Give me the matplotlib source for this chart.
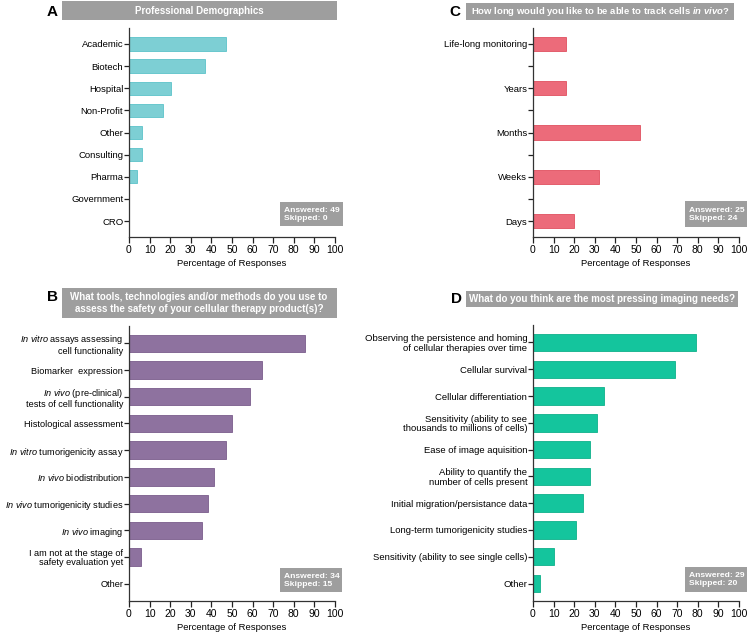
import matplotlib
matplotlib.use('Agg')
import matplotlib.pyplot as plt
from matplotlib.patches import Rectangle

plt.rcParams['font.family'] = ['Liberation Sans', 'DejaVu Sans']
plt.rcParams['mathtext.fontset'] = 'custom'
plt.rcParams['mathtext.rm'] = 'Liberation Sans'
plt.rcParams['mathtext.it'] = 'Liberation Sans:italic'
plt.rcParams['mathtext.bf'] = 'Liberation Sans:bold'
plt.rcParams['mathtext.bfit'] = 'Liberation Sans:bold:italic'

# Данные панелей (проценты ответов)
demo_labels = ['Academic', 'Biotech', 'Hospital', 'Non-Profit', 'Other',
               'Consulting', 'Pharma', 'Government', 'CRO']
demo_values = [46.9, 36.7, 20.4, 16.3, 6.1, 6.1, 4.1, 0, 0]

track_labels = ['Life-long monitoring', 'Years', 'Months', 'Weeks', 'Days']
track_values = [16, 16, 52, 32, 20]

safety_labels = [r'$\mathit{In\ vitro}$ assays assessing' + '\ncell functionality',
                 'Biomarker  expression',
                 r'$\mathit{In\ vivo}$ (pre-clinical)' + '\ntests of cell functionality',
                 'Histological assessment',
                 r'$\mathit{In\ vitro}$ tumorigenicity assay',
                 r'$\mathit{In\ vivo}$ biodistribution',
                 r'$\mathit{In\ vivo}$ tumorigenicity studies',
                 r'$\mathit{In\ vivo}$ imaging',
                 'I am not at the stage of\nsafety evaluation yet',
                 'Other']
safety_values = [85.3, 64.7, 58.8, 50.0, 47.1, 41.2, 38.2, 35.3, 5.9, 0]

needs_labels = ['Observing the persistence and homing\nof cellular therapies over time',
                'Cellular survival',
                'Cellular differentiation',
                'Sensitivity (ability to see\nthousands to millions of cells)',
                'Ease of image aquisition',
                'Ability to quantify the\nnumber of cells present',
                'Initial migration/persistance data',
                'Long-term tumorigenicity studies',
                'Sensitivity (ability to see single cells)',
                'Other']
needs_values = [79.3, 69.0, 34.5, 31.0, 27.6, 27.6, 24.1, 20.7, 10.3, 3.4]

W, H = 750, 635
fig = plt.figure(figsize=(W / 100, H / 100), dpi=100)
BOX = '#9e9e9e'


def px_axes(left, top, right, bottom):
    return fig.add_axes([left / W, 1 - bottom / H, (right - left) / W, (bottom - top) / H])


def header(letter, lx, ly, x0, y0, x1, y1, text, tx, ty, size=7):
    fig.add_artist(Rectangle((x0 / W, 1 - y1 / H), (x1 - x0) / W, (y1 - y0) / H,
                             transform=fig.transFigure, facecolor=BOX, edgecolor='none'))
    fig.text(lx / W, 1 - ly / H, letter, fontsize=11, fontweight='bold',
             ha='center', va='center')
    fig.text(tx / W, 1 - ty / H, text, fontsize=size, fontweight='bold', color='white',
             ha='center', va='center', linespacing=1.25)


def answered(x0, y0, x1, y1, n_ans, n_skip):
    fig.add_artist(Rectangle((x0 / W, 1 - y1 / H), (x1 - x0) / W, (y1 - y0) / H,
                             transform=fig.transFigure, facecolor=BOX, edgecolor='none'))
    fig.text((x0 + 4) / W, 1 - (y0 + y1) / 2 / H, f'Answered: {n_ans}\nSkipped: {n_skip}',
             fontsize=6.1, fontweight='bold', color='white', ha='left', va='center',
             linespacing=1.2)


def bar_panel(ax, labels, values, face, edge, height, pad, lsize=6.8):
    pos = list(range(len(labels)))
    ax.barh(pos, values, height=height, color=face, edgecolor=edge, linewidth=0.6)
    ax.set_ylim(len(labels) - 1 + pad, -pad)
    ax.set_yticks(pos)
    ax.set_yticklabels(labels, fontsize=lsize, multialignment='right', linespacing=1.05)
    ax.set_xlim(0, 100)
    ax.set_xticks(range(0, 101, 10))
    ax.tick_params(axis='x', labelsize=7.5, length=4, width=0.9, pad=1.5, colors='#222222')
    ax.tick_params(axis='y', length=3.5, width=0.9, pad=0.6, colors='#222222')
    for lab in ax.get_xticklabels() + ax.get_yticklabels():
        lab.set_color('black')
    ax.set_xlabel('Percentage of Responses', fontsize=6.8, labelpad=3.5)
    for s in ['top', 'right']:
        ax.spines[s].set_visible(False)
    for s in ['left', 'bottom']:
        ax.spines[s].set_linewidth(0.9)
        ax.spines[s].set_color('#333333')


# Панель A
axA = px_axes(129, 28, 335, 237)
bar_panel(axA, demo_labels, demo_values, '#7dcfd4', '#5cc3c9', 0.6, 0.72)
header('A', 52, 12, 62, 1, 337, 20, 'Professional Demographics', 199, 11)
answered(280, 202, 343, 226, 49, 0)

# Панель C
axC = px_axes(533, 28, 739, 237)
bar_panel(axC, track_labels, track_values, '#ec6b7a', '#e0505f', 0.32, 0.36)
axC.set_yticks([0.5, 1.5, 2.5, 3.5], minor=True)
axC.tick_params(axis='y', which='minor', length=3.5, width=0.9, colors='#222222')
header('C', 455, 12, 466, 3, 734, 20,
       r'How long would you like to be able to track cells $\mathbfit{in\ vivo}$?',
       600, 11.5, size=6.8)
answered(685, 201, 747, 227, 25, 24)

# Панель B
axB = px_axes(129, 326, 335, 601)
bar_panel(axB, safety_labels, safety_values, '#8e729f', '#7a5c8c', 0.65, 0.65, lsize=6.6)
header('B', 52, 297, 62, 288, 337, 318,
       'What tools, technologies and/or methods do you use to\n'
       'assess the safety of your cellular therapy product(s)?', 199, 303)
answered(280, 568, 342, 592, 34, 15)

# Панель D
axD = px_axes(533, 325, 739, 601)
bar_panel(axD, needs_labels, needs_values, '#14c59d', '#0fb08b', 0.65, 0.65)
header('D', 456, 299, 466, 291, 738, 307,
       'What do you think are the most pressing imaging needs?', 602, 299)
answered(685, 567, 747, 592, 29, 20)

fig.savefig('out.png', dpi=100)
